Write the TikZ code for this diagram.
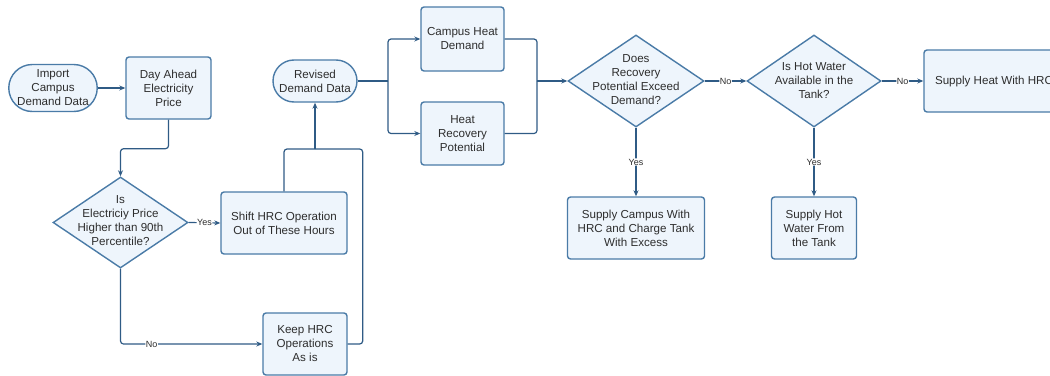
\documentclass[tikz,border=0pt]{standalone}
\usepackage{fontspec}
\setmainfont{Liberation Sans}
\usetikzlibrary{shapes.geometric,shapes.misc,arrows.meta}
\definecolor{bord}{HTML}{4A7BA7}
\definecolor{boxfill}{HTML}{EEF5FC}
\definecolor{arr}{HTML}{2F5B85}
\definecolor{txt}{HTML}{2E2E2E}
\begin{document}
\begin{tikzpicture}[x=1pt,y=-1pt,
 box/.style={draw=bord, fill=boxfill, line width=1.4pt, rounded corners=3pt, align=center, text=txt, font=\fontsize{11.6}{14}\selectfont, inner sep=1pt},
 term/.style={rounded rectangle, draw=bord, fill=boxfill, line width=1.4pt, align=center, text=txt, font=\fontsize{11.6}{14}\selectfont, inner sep=0pt},
 dia/.style={diamond, draw=bord, fill=boxfill, line width=1.4pt, inner sep=0pt},
 dtext/.style={align=center, text=txt, font=\fontsize{11.6}{14}\selectfont},
 conn/.style={draw=arr, line width=1.2pt, rounded corners=3pt, -{Stealth[length=6pt,width=5pt]}},
 plain/.style={draw=arr, line width=1.2pt, rounded corners=3pt},
 lab/.style={fill=white, inner sep=0.5pt, text=txt, font=\fontsize{9}{10}\selectfont}]
\useasboundingbox (0,0) rectangle (1050,375);

\node[term, minimum width=83pt, minimum height=47pt] (imp) at (53,88) {Import\\Campus\\Demand Data};
\node[box, minimum width=85pt, minimum height=62pt] (day) at (168.5,88) {Day Ahead\\Electricity\\Price};
\node[dia, minimum width=135pt, minimum height=91pt,
  label={[dtext, yshift=2pt]center:Is\\Electriciy Price\\Higher than 90th\\Percentile?}] (d1) at (120.5,222.5) {};
\node[box, minimum width=126pt, minimum height=62pt] (shift) at (284,223) {Shift HRC Operation\\Out of These Hours};
\node[box, minimum width=84pt, minimum height=62pt] (keep) at (305,344) {Keep HRC\\Operations\\As is};
\node[term, minimum width=84pt, minimum height=42pt] (rev) at (315,81) {Revised\\Demand Data};
\node[box, minimum width=83pt, minimum height=64pt] (camp) at (462.5,39) {Campus Heat\\Demand};
\node[box, minimum width=83pt, minimum height=63pt] (hrec) at (462.5,133.5) {Heat\\Recovery\\Potential};
\node[dia, minimum width=136pt, minimum height=92pt,
  label={[dtext, yshift=1pt]center:Does\\Recovery\\Potential Exceed\\Demand?}] (d2) at (636,81) {};
\node[dia, minimum width=134pt, minimum height=92pt,
  label={[dtext]center:Is Hot Water\\Available in the\\Tank?}] (d3) at (814,81) {};
\node[box, minimum width=137pt, minimum height=62pt] (scamp) at (636,228) {Supply Campus With\\HRC and Charge Tank\\With Excess};
\node[box, minimum width=85pt, minimum height=62pt] (shot) at (814,228) {Supply Hot\\Water From\\the Tank};
\node[box, minimum width=140pt, minimum height=62pt] (sheat) at (994,81) {Supply Heat With HRC};

\coordinate (j1) at (315,149);
\coordinate (j2) at (388,81);
\coordinate (j3) at (537,81);

\draw[conn] (imp.east) -- (day.west);
\draw[conn] (day.south) -- ++(0,29) -| (d1.north);
\draw[conn] (d1.east) -- node[lab]{Yes} (shift.west);
\draw[conn] (d1.south) -- (d1.south |- keep.west) -- node[lab, pos=0.22]{No} (keep.west);
\draw[plain] (shift.north) |- (j1);
\draw[plain] (keep.east) -- ++(15,0) |- (j1);
\draw[conn] (j1) -- (rev.south);
\draw[plain] (rev.east) -- (j2);
\draw[conn] (j2) |- (camp.west);
\draw[conn] (j2) |- (hrec.west);
\draw[plain] (camp.east) -| (j3);
\draw[plain] (hrec.east) -| (j3);
\draw[conn] (j3) -- (d2.west);
\draw[conn] (d2.east) -- node[lab]{No} (d3.west);
\draw[conn] (d3.east) -- node[lab]{No} (sheat.west);
\draw[conn] (d2.south) -- node[lab]{Yes} (d2.south |- scamp.north);
\draw[conn] (d3.south) -- node[lab]{Yes} (d3.south |- shot.north);
\end{tikzpicture}
\end{document}
